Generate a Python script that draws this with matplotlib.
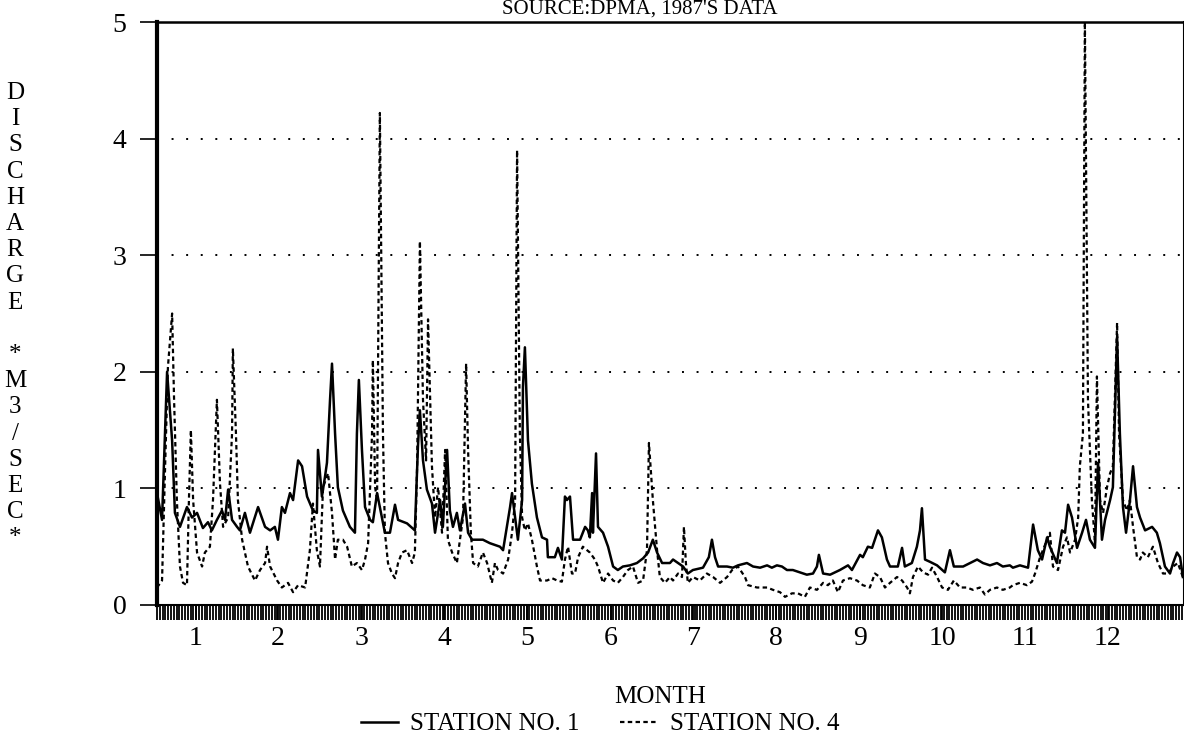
import matplotlib
matplotlib.use('Agg')
import matplotlib.pyplot as plt
from matplotlib.ticker import MultipleLocator

# daily discharge, 1987 (day index along the year, m3/sec)
st1Day = [0, 1.8, 3.6, 5.4, 6.4, 8.2, 10.7, 12.5, 14.3, 16.4, 18.2, 19.6, 21.4, 23.2, 24.3, 25.4, 26.8, 28.6,
          29.6, 31.4, 33.2, 36.1, 38.6, 40.4, 42.1, 43.2, 44.6, 45.7, 47.5, 48.6, 50.4, 51.8, 53.6, 55.7, 57.1,
          57.5, 58.9, 60.0, 60.7, 61.8, 62.5, 63.6, 64.6, 66.4, 68.9, 70.7, 71.4, 72.1, 73.2, 74.3, 76.1, 77.1,
          78.6, 79.6, 81.4, 83.2, 85.0, 86.1, 89.3, 92.1, 93.2, 93.9, 95.0, 96.4, 98.2, 99.3, 101.1, 102.1,
          103.6, 104.6, 105.7, 107.1, 108.2, 110.0, 111.1, 112.5, 116.4, 118.9, 122.5, 123.6, 126.1, 126.8,
          127.9, 128.9, 130.4, 130.7, 131.4, 132.5, 133.9, 135.7, 137.5, 139.3, 139.6, 142.1, 143.2, 144.6,
          145.7, 146.4, 147.5, 148.6, 151.1, 152.9, 153.9, 154.6, 155.4, 155.7, 156.8, 157.5, 159.3, 161.1,
          162.9, 164.6, 166.4, 168.9, 171.4, 173.6, 175.4, 177.1, 178.6, 180.4, 183.2, 184.3, 186.1, 187.9,
          189.6, 191.4, 195.0, 197.1, 198.2, 199.3, 200.4, 203.6, 205.7, 207.5, 210.7, 212.9, 215.4, 217.9,
          219.6, 221.4, 223.2, 225.0, 227.1, 229.6, 232.1, 234.3, 235.7, 236.4, 237.9, 240.4, 243.9, 246.8,
          248.2, 251.1, 252.1, 253.9, 255.4, 257.5, 258.9, 260.7, 261.8, 264.6, 266.1, 267.1, 269.6, 271.4,
          272.5, 273.2, 274.3, 276.1, 278.6, 281.4, 283.2, 284.6, 287.9, 290.4, 292.9, 295.0, 297.5, 300.0,
          302.1, 304.6, 305.7, 308.2, 311.1, 312.9, 314.6, 316.1, 317.9, 318.9, 321.4, 323.2, 324.3, 325.4,
          326.8, 328.6, 330.4, 331.8, 333.2, 335.0, 336.1, 337.5, 338.6, 340.4, 341.4, 342.9, 343.9, 345.0,
          346.1, 347.5, 348.6, 350.0, 351.1, 352.9, 355.4, 357.1, 358.2, 360.0, 361.8, 362.9, 364.3, 365.4, 366.4]
st1Val = [0.96, 0.73, 2.0, 1.41, 0.79, 0.67, 0.84, 0.75, 0.79, 0.66, 0.71, 0.64, 0.73, 0.81, 0.73, 0.99, 0.73, 0.67,
          0.64, 0.79, 0.62, 0.84, 0.67, 0.64, 0.67, 0.56, 0.84, 0.79, 0.96, 0.90, 1.24, 1.19, 0.93, 0.81, 0.79,
          1.33, 0.93, 1.10, 1.22, 1.76, 2.07, 1.47, 1.01, 0.81, 0.67, 0.62, 1.47, 1.93, 1.33, 0.84, 0.73, 0.71,
          0.96, 0.84, 0.62, 0.62, 0.86, 0.73, 0.70, 0.64, 1.36, 1.67, 1.24, 0.99, 0.87, 0.62, 0.90, 0.67,
          1.33, 0.81, 0.67, 0.79, 0.64, 0.87, 0.62, 0.56, 0.56, 0.53, 0.50, 0.47, 0.84, 0.96,
          0.75, 0.56, 0.90, 1.87, 2.21, 1.41, 1.04, 0.75, 0.58, 0.56, 0.41, 0.41, 0.49, 0.39,
          0.93, 0.90, 0.93, 0.56, 0.56, 0.67, 0.64, 0.58, 0.96, 0.62, 1.30, 0.67, 0.62, 0.50,
          0.33, 0.30, 0.33, 0.34, 0.36, 0.40, 0.45, 0.56, 0.45, 0.36, 0.36, 0.39, 0.36, 0.33,
          0.27, 0.30, 0.32, 0.41, 0.56, 0.41, 0.33, 0.33, 0.32, 0.34, 0.36, 0.33, 0.32, 0.34,
          0.32, 0.34, 0.33, 0.30, 0.30, 0.28, 0.26, 0.27, 0.33, 0.43, 0.27, 0.26, 0.30, 0.34,
          0.30, 0.43, 0.41, 0.50, 0.49, 0.64, 0.58, 0.39, 0.33, 0.33, 0.49, 0.33, 0.36, 0.50,
          0.64, 0.83, 0.39, 0.37, 0.34, 0.28, 0.47, 0.33, 0.33, 0.36, 0.39, 0.36, 0.34, 0.36,
          0.33, 0.34, 0.32, 0.34, 0.32, 0.69, 0.47, 0.39, 0.58, 0.50, 0.36, 0.64, 0.62, 0.86,
          0.75, 0.49, 0.62, 0.73, 0.56, 0.49, 1.22, 0.56, 0.73, 0.90, 1.01, 2.30, 1.47, 0.84,
          0.62, 0.90, 1.19, 0.84, 0.75, 0.64, 0.67, 0.62, 0.53, 0.33, 0.27, 0.36, 0.45, 0.41, 0.24]

st4Day = [0, 1.8, 2.9, 3.9, 5.4, 6.1, 7.1, 8.2, 9.3, 10.7, 11.4, 12.1, 12.9, 14.3, 16.1, 17.1, 18.9, 20.0, 21.4,
          22.5, 23.6, 25.4, 26.8, 27.1, 28.2, 28.9, 30.4, 32.5, 35.0, 36.8, 38.6, 39.3, 40.4, 42.9, 44.6, 46.8,
          48.6, 50.4, 52.9, 54.6, 55.7, 57.1, 58.2, 59.3, 61.1, 62.5, 63.6, 64.6, 66.4, 67.9, 69.6, 71.4, 73.2,
          74.3, 75.4, 76.8, 77.1, 77.9, 78.6, 79.6, 80.7, 81.4, 82.5, 83.9, 85.0, 86.1, 87.5, 89.3, 91.1, 92.1,
          92.9, 93.9, 95.0, 96.1, 96.8, 98.2, 99.3, 100.4, 101.8, 102.9, 103.9, 105.4, 107.1, 108.2, 109.3,
          110.4, 111.1, 112.1, 112.9, 114.6, 116.4, 117.9, 119.6, 120.7, 121.8, 123.6, 125.4, 126.8, 127.9,
          128.6, 129.6, 130.4, 131.4, 132.5, 133.9, 135.7, 136.8, 139.3, 141.1, 142.9, 144.6, 145.7, 146.8,
          148.2, 149.3, 150.4, 152.1, 154.6, 156.4, 157.5, 159.3, 161.1, 162.9, 164.6, 166.4, 168.2, 170.0,
          171.8, 173.6, 175.0, 175.7, 177.1, 178.6, 179.6, 181.4, 183.2, 184.3, 186.1, 187.5, 188.2, 188.9,
          189.6, 191.4, 193.9, 196.4, 198.6, 201.1, 203.6, 205.4, 207.5, 210.0, 211.1, 214.3, 217.9, 220.0,
          222.5, 224.3, 226.8, 228.9, 231.4, 233.2, 235.7, 237.9, 239.6, 241.4, 243.2, 245.0, 247.5, 250.0,
          252.1, 254.6, 256.4, 258.2, 260.0, 261.8, 264.3, 266.1, 267.9, 268.9, 270.0, 271.8, 273.6, 275.4,
          276.8, 278.6, 280.4, 282.5, 284.6, 286.8, 289.3, 291.4, 293.9, 295.7, 297.5, 300.0, 302.1, 304.6,
          305.7, 308.2, 310.7, 312.5, 313.6, 315.4, 317.9, 318.9, 320.0, 321.8, 323.6, 325.0, 326.1, 327.9,
          329.0, 329.6, 330.7, 331.4, 332.5, 333.9, 335.0, 335.7, 336.8, 337.9, 339.3, 340.4, 341.4, 342.9,
          343.6, 345.0, 346.4, 347.5, 348.6, 350.0, 351.1, 352.1, 353.9, 355.7, 357.5, 359.3, 361.1, 362.9,
          364.6, 366.4]
st4Val = [0.15, 0.21, 1.19, 2.04, 2.50, 1.76, 0.90, 0.33, 0.19, 0.17, 0.90, 1.50, 0.90, 0.45, 0.33, 0.45, 0.50, 0.90, 1.76,
          1.04, 0.67, 0.75, 1.47, 2.20, 1.47, 0.90, 0.56, 0.33, 0.21, 0.30, 0.36, 0.50, 0.33, 0.21, 0.15, 0.19,
          0.11, 0.17, 0.15, 0.47, 0.87, 0.47, 0.33, 1.01, 1.13, 0.79, 0.39, 0.56, 0.56, 0.50, 0.33, 0.36, 0.30,
          0.39, 0.53, 1.47, 2.10, 1.01, 0.90, 4.22, 1.47, 0.62, 0.36, 0.27, 0.23, 0.36, 0.45, 0.47, 0.36, 0.45,
          1.19, 3.12, 1.76, 1.24, 2.45, 1.19, 0.75, 1.01, 0.62, 1.33, 0.56, 0.45, 0.36, 0.56, 0.75,
          2.07, 1.33, 0.62, 0.36, 0.33, 0.45, 0.36, 0.19, 0.36, 0.30, 0.27, 0.39, 0.62, 0.90,
          3.90, 1.47, 0.75, 0.64, 0.70, 0.56, 0.33, 0.21, 0.21, 0.23, 0.21, 0.20, 0.39, 0.50,
          0.27, 0.27, 0.41, 0.50, 0.45, 0.39, 0.33, 0.19, 0.27, 0.21, 0.19, 0.24, 0.30, 0.33,
          0.19, 0.21, 0.47, 1.39, 0.90, 0.47, 0.24, 0.19, 0.24, 0.21, 0.27, 0.24, 0.67, 0.36,
          0.19, 0.24, 0.21, 0.27, 0.24, 0.19, 0.24, 0.30, 0.33, 0.24, 0.17, 0.15, 0.15, 0.13,
          0.11, 0.07, 0.10, 0.10, 0.07, 0.15, 0.13, 0.19, 0.17, 0.21, 0.11, 0.21, 0.23, 0.21,
          0.17, 0.15, 0.27, 0.24, 0.15, 0.19, 0.24, 0.21, 0.15, 0.10, 0.24, 0.33, 0.28, 0.26,
          0.32, 0.24, 0.15, 0.13, 0.21, 0.15, 0.15, 0.13, 0.15, 0.09, 0.13, 0.15, 0.13, 0.15,
          0.17, 0.19, 0.17, 0.20, 0.27, 0.41, 0.56, 0.62, 0.33, 0.30, 0.50, 0.58, 0.45, 0.56,
          0.75, 1.19, 1.47, 5.0, 1.76, 0.90, 0.53, 1.96, 0.90, 0.79, 1.01, 1.13, 1.19, 2.42,
          1.47, 0.90, 0.81, 0.90, 0.67, 0.41, 0.39, 0.45, 0.41, 0.50, 0.36, 0.27, 0.27, 0.33,
          0.36, 0.24]

monthPos = [13.9, 43.2, 73.2, 102.5, 132.1, 162.1, 191.4, 221.1, 251.1, 280.4, 310.0, 339.6]
monthLabels = [str(m) for m in range(1, 13)]

assert len(st1Day) == len(st1Val)
assert len(st4Day) == len(st4Val)

plt.rcParams['font.family'] = ['Liberation Serif', 'DejaVu Serif']

fig = plt.figure(figsize=(11.84, 7.39), dpi=100)
W, H = 1184.0, 739.0
ax = fig.add_axes([157 / W, 1 - 605 / H, 1 - 157 / W, (605 - 22) / H])

ax.plot(st1Day, st1Val, color='black', lw=1.8, label='STATION NO. 1')
ax.plot(st4Day, st4Val, color='black', lw=1.6, linestyle=(0, (2, 1.5)), label='STATION NO. 4')

ax.set_xlim(0, 366.8)
ax.set_ylim(0, 5)

# dotted guide lines
for v in [1, 2, 3, 4]:
    ax.axhline(v, color='black', lw=1.4, linestyle=(0, (1, 6.5)), zorder=0)

ax.set_yticks(range(6))
ax.set_xticks(monthPos, monthLabels)
ax.xaxis.set_minor_locator(MultipleLocator(1))  # daily ticks -> hatched band
ax.tick_params(axis='x', which='both', length=11, width=1.3, direction='out', pad=4, labelsize=20)
ax.tick_params(axis='y', length=12, width=1.2, pad=10, labelsize=20)

ax.spines['left'].set_linewidth(3)
ax.spines['bottom'].set_linewidth(1.5)
ax.spines['top'].set_linewidth(1.8)
ax.spines['right'].set_linewidth(1.5)

# stacked y label
yLabel = "DISCHARGE *M3/SEC*"
for i, ch in enumerate(yLabel):
    fig.text(15 / W, 1 - (93 + 26.2 * i) / H, ch, ha='center', va='center', fontsize=18)

fig.text(640 / W, 1.0, "SOURCE:DPMA, 1987'S DATA", ha='center', va='top', fontsize=15)
fig.text(660 / W, 1 - 697 / H, 'MONTH', ha='center', va='center', fontsize=18)

ax.legend(loc='center', bbox_to_anchor=(600 / W, 1 - 724 / H), bbox_transform=fig.transFigure,
          ncol=2, frameon=False, handlelength=1.5, handletextpad=0.5, columnspacing=1.6, fontsize=18)

fig.savefig('out.png', dpi=100)
